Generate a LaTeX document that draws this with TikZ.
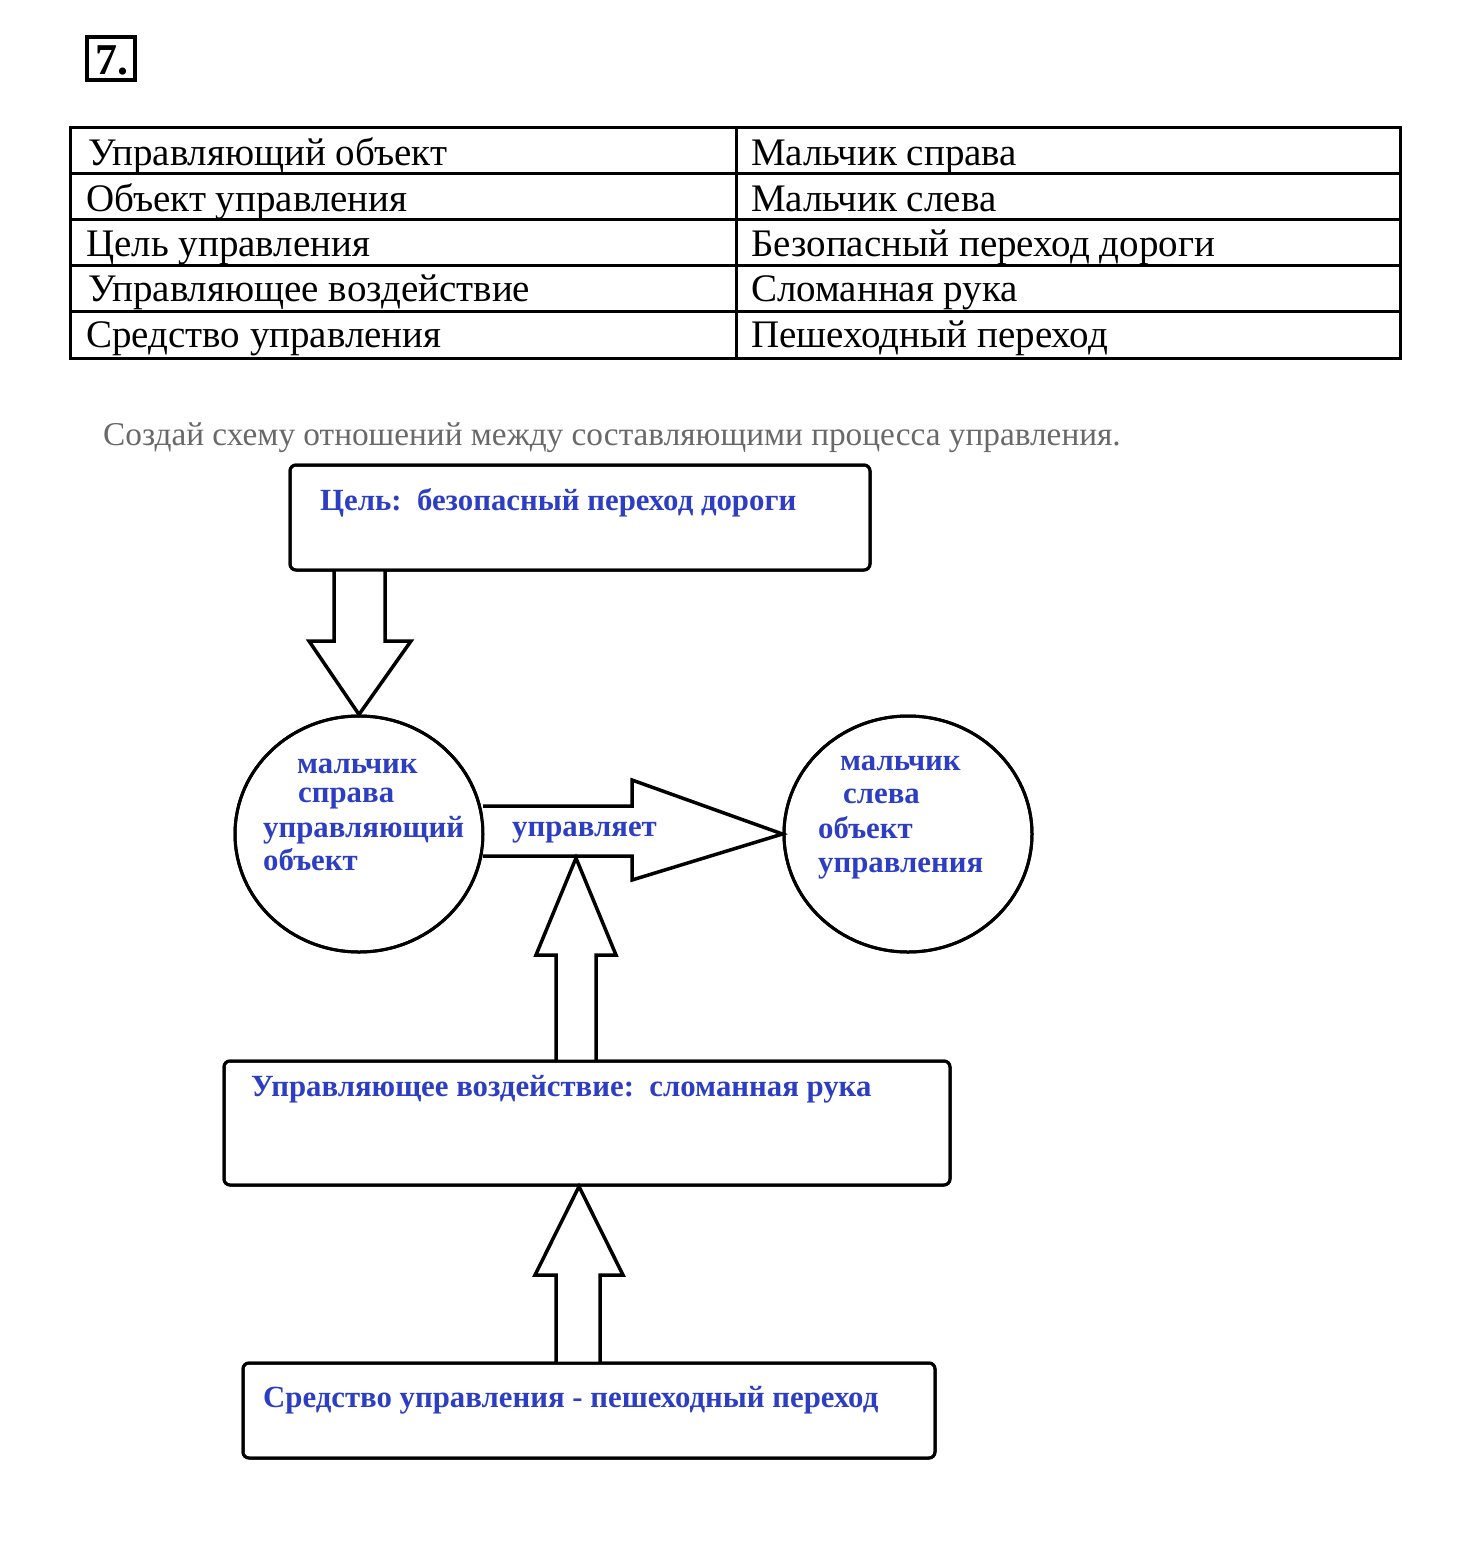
\documentclass[tikz,border=0pt]{standalone}
\usepackage{fontspec}
\setmainfont{Liberation Serif}
\usetikzlibrary{shapes.geometric}
\definecolor{ink}{RGB}{45,62,195}
\definecolor{graytxt}{RGB}{105,105,105}
\begin{document}
\begin{tikzpicture}[x=1pt,y=-1pt,
  tab/.style={anchor=base west, inner sep=0pt, font=\fontsize{39}{42}\selectfont},
  bluetxt/.style={anchor=base west, inner sep=0pt, text=ink, font=\bfseries\fontsize{30.8}{33}\selectfont},
  box/.style={draw, line width=3pt, rounded corners=6pt, minimum width=#1, inner sep=0pt},
  oval/.style={draw, ellipse, line width=3pt, minimum width=248, minimum height=236, inner sep=0pt},
  barrow/.style={draw, line width=3.5pt, fill=white, line join=miter}]
\useasboundingbox[fill=white] (0,0) rectangle (1460,1548);

% number
\node[draw, line width=3.5pt, minimum width=48, minimum height=43, inner sep=0pt] (num) at (111,58.5) {};
\node[anchor=base, inner sep=0pt, font=\bfseries\fontsize{44}{44}\selectfont] (numtxt) at (112,74) {7.};

% table
\draw[line width=3pt] (70,127) rectangle (1400,358);
\foreach \yy in {173,219,265,311} \draw[line width=3pt] (70,\yy) -- (1400,\yy);
\draw[line width=3pt] (736,127) -- (736,358);
\node[tab] (t1) at (88,165) {Управляющий объект};
\node[tab] (t2) at (86,211) {Объект управления};
\node[tab] (t3) at (86,256) {Цель управления};
\node[tab] (t4) at (88,301) {Управляющее воздействие};
\node[tab] (t5) at (86,347) {Средство управления};
\node[tab] (r1) at (751,165) {Мальчик справа};
\node[tab] (r2) at (751,211) {Мальчик слева};
\node[tab] (r3) at (751,256) {Безопасный переход дороги};
\node[tab] (r4) at (751,301) {Сломанная рука};
\node[tab] (r5) at (751,347) {Пешеходный переход};

% instruction
\node[anchor=base west, inner sep=0pt, text=graytxt, font=\fontsize{33.3}{36}\selectfont]
  (instr) at (103,445) {Создай схему отношений между составляющими процесса управления.};

% shapes
\node[box=580, minimum height=105] (goal) at (580,517.5) {};
\node[oval] (boss) at (359,834) {};
\node[oval] (worker) at (908,834) {};
\node[box=726, minimum height=124] (act) at (587,1123) {};
\node[box=692, minimum height=95] (means) at (589,1410.5) {};

% block arrows
\draw[barrow] (334,570) -- (334,641) -- (309,641) -- (boss.north) -- (411,641) -- (385,641) -- (385,570);
\draw[barrow] (483,806) -- (632,806) -- (632,780) -- (worker.west) -- (632,880) -- (632,856) -- (483,856);
\coordinate (hit) at (576,858);
\draw[barrow] (556,1061) -- (556,955) -- (536,955) -- (hit) -- (616,955) -- (596,955) -- (596,1061);
\draw[barrow] (556,1363) -- (556,1275) -- (535,1275) -- (act.south -| 579,0) -- (623,1275) -- (600,1275) -- (600,1363);

% redraw borders over arrow ends
\node[box=580, minimum height=105] at (goal) {};
\node[box=726, minimum height=124] at (act) {};
\node[box=692, minimum height=95] at (means) {};
\node[oval] at (boss) {};
\node[oval] at (worker) {};

% blue labels
\node[bluetxt] (goaltxt) at (320,510) {Цель:\enspace безопасный переход дороги};
\node[bluetxt] (b1) at (297,773) {мальчик};
\node[bluetxt] (b2) at (298,802) {справа};
\node[bluetxt] (b3) at (263,837) {управляющий};
\node[bluetxt] (b4) at (263,870) {объект};
\node[bluetxt] (w1) at (840,770) {мальчик};
\node[bluetxt] (w2) at (843,803) {слева};
\node[bluetxt] (w3) at (818,838) {объект};
\node[bluetxt] (w4) at (818,872) {управления};
\node[bluetxt] (ctl) at (512,836) {управляет};
\node[bluetxt] (acttxt) at (251,1096) {Управляющее воздействие:\enspace сломанная рука};
\node[bluetxt] (meanstxt) at (263,1407) {Средство управления - пешеходный переход};
\end{tikzpicture}
\end{document}
